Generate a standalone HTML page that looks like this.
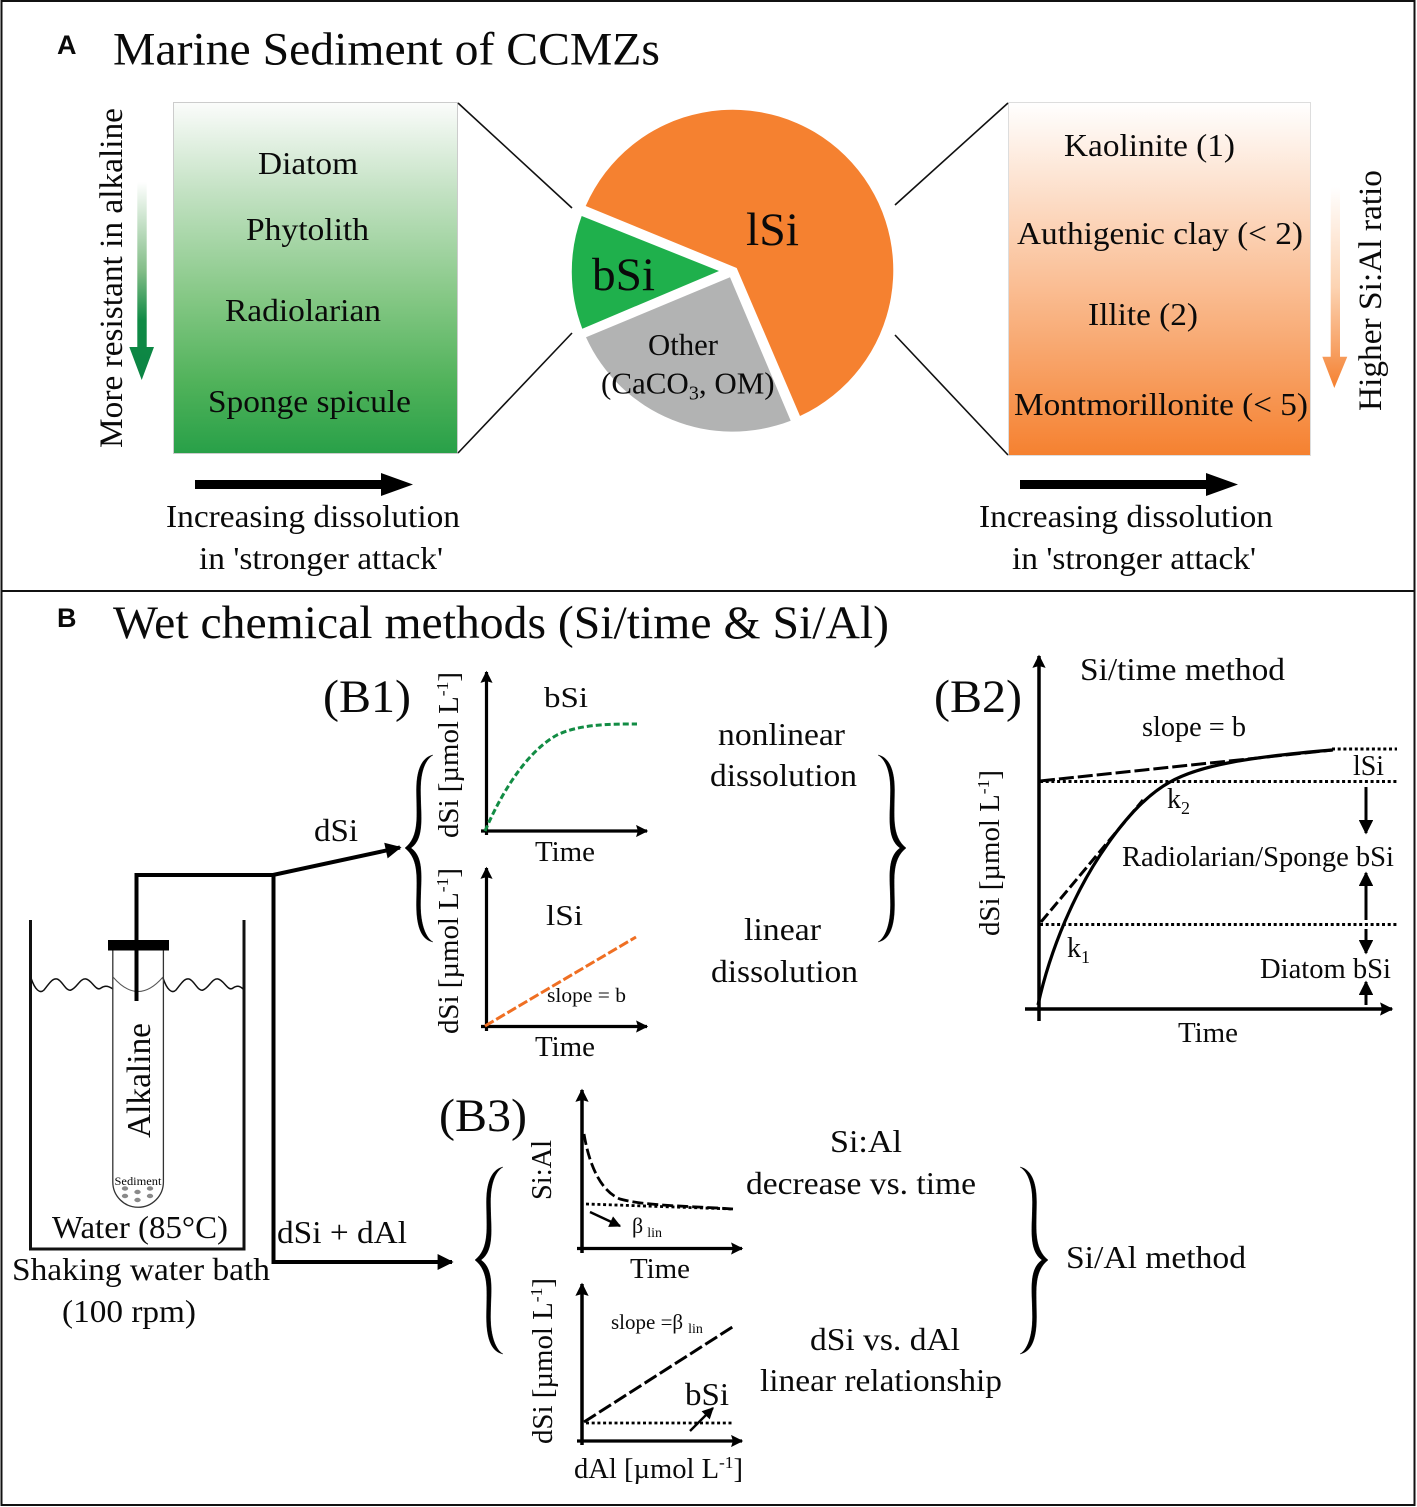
<!DOCTYPE html>
<html>
<head>
<meta charset="utf-8">
<style>
html,body{margin:0;padding:0;background:#fff}
svg{display:block}
text{font-family:"Liberation Serif",serif;fill:#0a0a0a}
.s{font-family:"Liberation Sans",sans-serif;font-weight:bold}
</style>
</head>
<body>
<svg width="1417" height="1507" viewBox="0 0 1417 1507" xmlns="http://www.w3.org/2000/svg">
<defs>
<linearGradient id="g" x1="0" y1="0" x2="0" y2="1"><stop offset="0" stop-color="#fbfcfb"/><stop offset=".25" stop-color="#c4e2c4"/><stop offset=".55" stop-color="#86c886"/><stop offset=".8" stop-color="#50b25a"/><stop offset="1" stop-color="#28a048"/></linearGradient>
<linearGradient id="o" x1="0" y1="0" x2="0" y2="1"><stop offset="0" stop-color="#fff"/><stop offset="1" stop-color="#f58130"/></linearGradient>
<linearGradient id="ga" x1="0" y1="0" x2="0" y2="1"><stop offset="0" stop-color="#fff"/><stop offset=".45" stop-color="#82bd87"/><stop offset=".7" stop-color="#0f8a45"/><stop offset="1" stop-color="#0b8444"/></linearGradient>
<linearGradient id="oa" x1="0" y1="0" x2="0" y2="1"><stop offset="0" stop-color="#fff"/><stop offset=".5" stop-color="#fcd3b2"/><stop offset=".8" stop-color="#f7a266"/><stop offset="1" stop-color="#f58130"/></linearGradient>
<marker id="a" viewBox="0 0 10 10" refX="9" refY="5" markerWidth="4.500" markerHeight="3.800" markerUnits="strokeWidth" orient="auto"><path d="M0 0L10 5L0 10L1.500 5Z" fill="#000"/></marker>
<marker id="b" viewBox="0 0 10 10" refX="9" refY="5" markerWidth="4.800" markerHeight="4" markerUnits="strokeWidth" orient="auto"><path d="M0 0L10 5L0 10Z" fill="#000"/></marker>
<marker id="c" viewBox="0 0 10 10" refX="9" refY="5" markerWidth="5.200" markerHeight="4.800" markerUnits="strokeWidth" orient="auto"><path d="M0 0L10 5L0 10Z" fill="#000"/></marker>
<path id="br" d="M433 755C423 757 416.500 768 416.500 790C416.500 815 420 836 405 848C420 860 416.500 880 416.500 905C416.500 930 423 940 433 942C426 938 420.500 925 420.500 905C420.500 880 425 858 411 848C425 838 420.500 815 420.500 790C420.500 770 426 759 433 755Z" fill="#000" stroke="#000" stroke-width=".4"/>
</defs>
<rect width="1417" height="1507" fill="#fff"/>
<rect x="1.500" y="1" width="1413" height="1504" fill="none" stroke="#111" stroke-width="2"/>
<line x1="2" y1="591" x2="1415" y2="591" stroke="#111" stroke-width="2"/>

<!-- Panel A -->
<text class="s" x="57" y="54" font-size="27">A</text>
<text x="113" y="64.500" font-size="47" textLength="547" lengthAdjust="spacingAndGlyphs">Marine Sediment of CCMZs</text>

<rect x="173.500" y="102.500" width="284" height="351" fill="url(#g)" stroke="#ccc" stroke-width="1"/>
<rect x="1008.500" y="102.500" width="302" height="353" fill="url(#o)" stroke="#ddd" stroke-width="1"/>

<path d="M458 103L572 208M458 453L572 333M1008 103L895 205M1008 455L895 335" stroke="#111" stroke-width="1.600" fill="none"/>

<path d="M585.700 206A160.500 160.500 0 1 1 800 416L736.700 268Z" fill="#f58130"/>
<path d="M581.700 216A160.500 160.500 0 0 0 582.300 328.700L719 271Z" fill="#1fb04c"/>
<path d="M586 337.300A161 161 0 0 0 790.700 420.700L730 277.300Z" fill="#b2b3b3"/>

<text x="746" y="245" font-size="47" textLength="53" lengthAdjust="spacingAndGlyphs">lSi</text>
<text x="592" y="290" font-size="47" textLength="63" lengthAdjust="spacingAndGlyphs">bSi</text>
<text x="648" y="355" font-size="31" textLength="70" lengthAdjust="spacingAndGlyphs">Other</text>
<text x="601" y="393.500" font-size="31">(CaCO<tspan font-size="20" dy="6">3</tspan><tspan dy="-6">, OM)</tspan></text>

<text x="258" y="174" font-size="32" textLength="100" lengthAdjust="spacingAndGlyphs">Diatom</text>
<text x="246" y="240" font-size="32" textLength="123" lengthAdjust="spacingAndGlyphs">Phytolith</text>
<text x="225" y="321" font-size="32" textLength="156" lengthAdjust="spacingAndGlyphs">Radiolarian</text>
<text x="208" y="412" font-size="32" textLength="203" lengthAdjust="spacingAndGlyphs">Sponge spicule</text>

<text x="1064" y="156" font-size="32" textLength="171" lengthAdjust="spacingAndGlyphs">Kaolinite (1)</text>
<text x="1017" y="244" font-size="32" textLength="286" lengthAdjust="spacingAndGlyphs">Authigenic clay (&lt; 2)</text>
<text x="1088" y="325" font-size="32" textLength="110" lengthAdjust="spacingAndGlyphs">Illite (2)</text>
<text x="1014" y="415" font-size="32" textLength="294" lengthAdjust="spacingAndGlyphs">Montmorillonite (&lt; 5)</text>

<text transform="translate(122 448) rotate(-90)" font-size="33" textLength="340" lengthAdjust="spacingAndGlyphs">More resistant in alkaline</text>
<text transform="translate(1381 411) rotate(-90)" font-size="33" textLength="241" lengthAdjust="spacingAndGlyphs">Higher Si:Al ratio</text>

<path d="M137.300 182H146.700V347H154L141.700 380L129.300 347H137.300Z" fill="url(#ga)"/>
<path d="M1330.700 187H1340V356.700H1347.300L1334.300 388L1322.300 356.700H1330.700Z" fill="url(#oa)"/>

<path d="M195 480H381V473L413 484.500L381 496V489H195Z" fill="#000"/>
<path d="M1020 480H1206V473L1238 484.500L1206 496V489H1020Z" fill="#000"/>

<text x="166" y="527" font-size="32" textLength="294" lengthAdjust="spacingAndGlyphs">Increasing dissolution</text>
<text x="199" y="569" font-size="32" textLength="244" lengthAdjust="spacingAndGlyphs">in 'stronger attack'</text>
<text x="979" y="527" font-size="32" textLength="294" lengthAdjust="spacingAndGlyphs">Increasing dissolution</text>
<text x="1012" y="569" font-size="32" textLength="244" lengthAdjust="spacingAndGlyphs">in 'stronger attack'</text>

<!-- Panel B -->
<text class="s" x="57" y="627" font-size="27">B</text>
<text x="113" y="638" font-size="47" textLength="776" lengthAdjust="spacingAndGlyphs">Wet chemical methods (Si/time &amp; Si/Al)</text>
<text x="323" y="712" font-size="47" textLength="88" lengthAdjust="spacingAndGlyphs">(B1)</text>
<text x="934" y="712" font-size="47" textLength="88" lengthAdjust="spacingAndGlyphs">(B2)</text>
<text x="439" y="1131" font-size="47" textLength="88" lengthAdjust="spacingAndGlyphs">(B3)</text>

<!-- Beaker and tube -->
<path d="M30.500 920V1249H244V920" fill="none" stroke="#111" stroke-width="3"/>
<path d="M31 978C35 990 40 994 44 990C49 984 52 978 57 979C62 980 66 992 71 990C77 988 80 978 86 979C92 980 96 992 101 988C104 986 107 985 113 989" fill="none" stroke="#111" stroke-width="1.500"/>
<path d="M163 978C167 990 172 994 176 990C181 984 184 978 189 979C194 980 198 992 203 990C209 988 212 978 218 979C224 980 228 992 233 988C236 986 239 985 243 989" fill="none" stroke="#111" stroke-width="1.500"/>
<path d="M112.800 950V1182A25.300 25.300 0 0 0 163.400 1182V950" fill="none" stroke="#333" stroke-width="1.300"/>
<path d="M113 977Q138 1006 163 977" fill="none" stroke="#555" stroke-width="1"/>
<rect x="108" y="940" width="61" height="10.500" fill="#000"/>
<g fill="#8a8a8a"><ellipse cx="125" cy="1188.500" rx="3.200" ry="2.200"/><ellipse cx="137.500" cy="1192" rx="3.200" ry="2.200"/><ellipse cx="150" cy="1188.500" rx="3.200" ry="2.200"/><ellipse cx="125" cy="1196" rx="3.200" ry="2.200"/><ellipse cx="137.500" cy="1200" rx="3.200" ry="2.200"/><ellipse cx="150" cy="1196" rx="3.200" ry="2.200"/></g>
<text x="114.500" y="1185" font-size="11.500" textLength="47" lengthAdjust="spacingAndGlyphs">Sediment</text>
<text transform="translate(150 1138) rotate(-90)" font-size="34" textLength="115" lengthAdjust="spacingAndGlyphs">Alkaline</text>
<text x="52" y="1238" font-size="32" textLength="176" lengthAdjust="spacingAndGlyphs">Water (85°C)</text>
<text x="12" y="1280" font-size="32" textLength="258" lengthAdjust="spacingAndGlyphs">Shaking water bath</text>
<text x="62" y="1322" font-size="32" textLength="134" lengthAdjust="spacingAndGlyphs">(100 rpm)</text>

<!-- Connectors -->
<path d="M136.500 1001V875H273L400 847.500" fill="none" stroke="#000" stroke-width="4" marker-end="url(#b)"/>
<path d="M273.500 875V1262H452" fill="none" stroke="#000" stroke-width="4" marker-end="url(#b)"/>
<text x="314" y="841" font-size="32" textLength="44" lengthAdjust="spacingAndGlyphs">dSi</text>
<text x="277" y="1243" font-size="32" textLength="130" lengthAdjust="spacingAndGlyphs">dSi + dAl</text>

<!-- Braces -->
<use href="#br"/>
<use href="#br" transform="translate(1311 0) scale(-1 1)"/>
<use href="#br" transform="translate(70 412)"/>
<use href="#br" transform="translate(1453 412) scale(-1 1)"/>

<!-- B1 charts -->
<g fill="none" stroke="#000" stroke-width="3.200">
<path d="M486.500 835V672" marker-end="url(#a)"/>
<path d="M481 831H647" marker-end="url(#a)"/>
<path d="M486.500 1031V868" marker-end="url(#a)"/>
<path d="M481 1026.500H647" marker-end="url(#a)"/>
</g>
<path d="M485 831C505 785 530 750 557 735C580 724 610 724 637 724" fill="none" stroke="#128c44" stroke-width="3" stroke-dasharray="6 3"/>
<path d="M485 1026L636 937" fill="none" stroke="#ef6f23" stroke-width="3" stroke-dasharray="10 3"/>
<text x="544" y="707" font-size="29" textLength="44" lengthAdjust="spacingAndGlyphs">bSi</text>
<text x="546" y="925" font-size="29" textLength="37" lengthAdjust="spacingAndGlyphs">lSi</text>
<text x="547" y="1002" font-size="20" textLength="79" lengthAdjust="spacingAndGlyphs">slope = b</text>
<text x="535" y="861" font-size="28" textLength="60" lengthAdjust="spacingAndGlyphs">Time</text>
<text x="535" y="1056" font-size="28" textLength="60" lengthAdjust="spacingAndGlyphs">Time</text>
<text transform="translate(458 838) rotate(-90)" font-size="28" textLength="166" lengthAdjust="spacingAndGlyphs">dSi [µmol L<tspan font-size="17" dy="-10">-1</tspan><tspan dy="10">]</tspan></text>
<text transform="translate(458 1034) rotate(-90)" font-size="28" textLength="166" lengthAdjust="spacingAndGlyphs">dSi [µmol L<tspan font-size="17" dy="-10">-1</tspan><tspan dy="10">]</tspan></text>
<text x="718" y="745" font-size="32" textLength="127" lengthAdjust="spacingAndGlyphs">nonlinear</text>
<text x="710" y="786" font-size="32" textLength="147" lengthAdjust="spacingAndGlyphs">dissolution</text>
<text x="744" y="940" font-size="32" textLength="77" lengthAdjust="spacingAndGlyphs">linear</text>
<text x="711" y="982" font-size="32" textLength="147" lengthAdjust="spacingAndGlyphs">dissolution</text>

<!-- B2 chart -->
<g fill="none" stroke="#000">
<path d="M1039 1021V656" stroke-width="3.500" marker-end="url(#a)"/>
<path d="M1025 1009H1392" stroke-width="3.500" marker-end="url(#a)"/>
<path d="M1038 1005C1050 950 1075 890 1107 845C1130 812 1150 793 1170 782C1200 765 1250 757 1332 750" stroke-width="3.200"/>
<path d="M1040 781L1333 750" stroke-width="3" stroke-dasharray="15 4"/>
<path d="M1041 922L1143 800" stroke-width="3" stroke-dasharray="11 4"/>
<path d="M1332 749H1397M1040 781.500H1397M1040 924.500H1397" stroke-width="3" stroke-dasharray="3 2.700"/>
<path d="M1366 787V833" stroke-width="3" marker-end="url(#c)"/>
<path d="M1366 920V873" stroke-width="3" marker-end="url(#c)"/>
<path d="M1366 929V953" stroke-width="3" marker-end="url(#c)"/>
<path d="M1366 1005V982" stroke-width="3" marker-end="url(#c)"/>
</g>
<text x="1080" y="680" font-size="32" textLength="205" lengthAdjust="spacingAndGlyphs">Si/time method</text>
<text x="1142" y="736" font-size="28" textLength="104" lengthAdjust="spacingAndGlyphs">slope = b</text>
<text x="1353" y="775" font-size="28" textLength="31" lengthAdjust="spacingAndGlyphs">lSi</text>
<text x="1167" y="808" font-size="28">k<tspan font-size="18" dy="6">2</tspan></text>
<text x="1067" y="957" font-size="28">k<tspan font-size="18" dy="6">1</tspan></text>
<text x="1122" y="866" font-size="28" textLength="272" lengthAdjust="spacingAndGlyphs">Radiolarian/Sponge bSi</text>
<text x="1260" y="978" font-size="28" textLength="131" lengthAdjust="spacingAndGlyphs">Diatom bSi</text>
<text x="1178" y="1042" font-size="28" textLength="60" lengthAdjust="spacingAndGlyphs">Time</text>
<text transform="translate(999 936) rotate(-90)" font-size="28" textLength="166" lengthAdjust="spacingAndGlyphs">dSi [µmol L<tspan font-size="17" dy="-10">-1</tspan><tspan dy="10">]</tspan></text>

<!-- B3 charts -->
<g fill="none" stroke="#000">
<path d="M582 1253V1090" stroke-width="3.500" marker-end="url(#a)"/>
<path d="M577 1248.500H742" stroke-width="3.200" marker-end="url(#a)"/>
<path d="M582 1445V1284" stroke-width="3.500" marker-end="url(#a)"/>
<path d="M577 1441H742" stroke-width="3.200" marker-end="url(#a)"/>
<path d="M584 1134C590 1170 603 1192 620 1199C645 1206 690 1206 733 1209" stroke-width="2.800" stroke-dasharray="11 4"/>
<path d="M586 1204L733 1209" stroke-width="2.800" stroke-dasharray="3 2.700"/>
<path d="M590 1212L620 1226" stroke-width="2.400" marker-end="url(#c)"/>
<path d="M584 1422L734 1326" stroke-width="3" stroke-dasharray="14 4"/>
<path d="M586 1423H734" stroke-width="2.800" stroke-dasharray="3 2.700"/>
<path d="M690 1431L713 1408" stroke-width="2.400" marker-end="url(#c)"/>
</g>
<text transform="translate(551 1200) rotate(-90)" font-size="28" textLength="60" lengthAdjust="spacingAndGlyphs">Si:Al</text>
<text transform="translate(552 1444) rotate(-90)" font-size="28" textLength="166" lengthAdjust="spacingAndGlyphs">dSi [µmol L<tspan font-size="17" dy="-10">-1</tspan><tspan dy="10">]</tspan></text>
<text x="632" y="1233" font-size="22">β<tspan font-size="14" dx="4" dy="4">lin</tspan></text>
<text x="630" y="1278" font-size="28" textLength="60" lengthAdjust="spacingAndGlyphs">Time</text>
<text x="611" y="1329" font-size="21">slope =β<tspan font-size="14" dx="5" dy="4">lin</tspan></text>
<text x="685" y="1405" font-size="32" textLength="44" lengthAdjust="spacingAndGlyphs">bSi</text>
<text x="574" y="1478" font-size="28" textLength="169" lengthAdjust="spacingAndGlyphs">dAl [µmol L<tspan font-size="17" dy="-10">-1</tspan><tspan dy="10">]</tspan></text>
<text x="830" y="1152" font-size="32" textLength="72" lengthAdjust="spacingAndGlyphs">Si:Al</text>
<text x="746" y="1194" font-size="32" textLength="230" lengthAdjust="spacingAndGlyphs">decrease vs. time</text>
<text x="810" y="1350" font-size="32" textLength="150" lengthAdjust="spacingAndGlyphs">dSi vs. dAl</text>
<text x="760" y="1391" font-size="32" textLength="242" lengthAdjust="spacingAndGlyphs">linear relationship</text>
<text x="1066" y="1268" font-size="32" textLength="180" lengthAdjust="spacingAndGlyphs">Si/Al method</text>
</svg>
</body>
</html>
